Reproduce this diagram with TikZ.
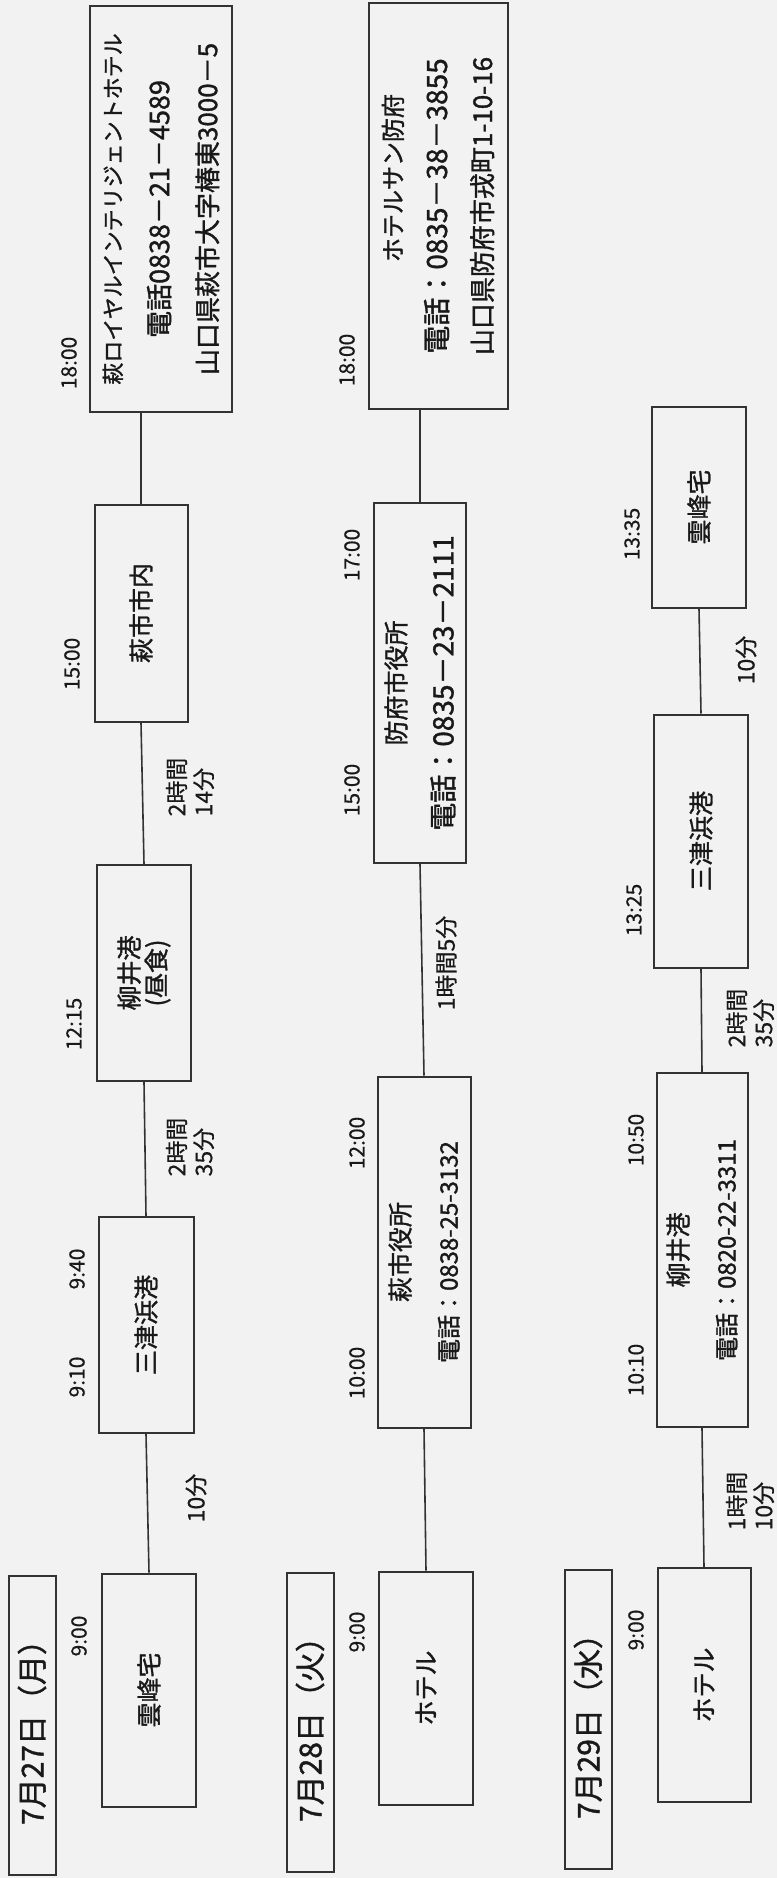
\documentclass[tikz,border=0pt]{standalone}
\usepackage{fontspec}
\setmainfont{Noto Sans CJK JP}[FakeBold=0.5]
\newfontfamily\heavy{Noto Sans CJK JP}[FakeBold=1.3]

\begin{document}
\begin{tikzpicture}[x=1pt,y=-1pt]
 \fill[black!5] (0,0) rectangle (777,1878);
 \useasboundingbox (0,0) rectangle (777,1878);
 \tikzstyle{every node} = [rotate=90,text=black!90,inner sep=0pt]
 \tikzstyle{box} = [draw=black!80,line width=2pt,align=center,
   font=\heavy\fontsize{25}{48}\selectfont]
 \tikzstyle{day} = [box,minimum width=299,minimum height=47,
   font=\heavy\fontsize{30}{36}\selectfont]
 \tikzstyle{time} = [font=\fontsize{21}{24}\selectfont]
 \tikzstyle{trip} = [align=left,font=\fontsize{23}{27}\selectfont]
 \tikzstyle{link} = [draw=black!80,line width=1.6pt]

 \node[day] (d1) at (32,1725) {7月27日（月）};
 \node[box,minimum width=233,minimum height=94] (a1) at (149,1690) {雲峰宅};
 \node[box,minimum width=216,minimum height=95] (a2) at (146,1325) {三津浜港};
 \node[box,minimum width=216,minimum height=94,font=\heavy\fontsize{25}{27}\selectfont]
   (a3) at (144,973) {柳井港\\(昼食)};
 \node[box,minimum width=217,minimum height=93] (a4) at (141,613) {萩市市内};
 \node[box,minimum width=406,minimum height=142] (a5) at (161,209)
   {{\fontsize{22}{48}\selectfont 萩ロイヤルインテリジェントホテル}\\
    {\fontsize{27}{48}\selectfont 電話0838－21－4589}\\
    {\fontsize{26}{48}\selectfont 山口県萩市大字椿東3000－5}};
 \node[time] (t1) at (79,1636) {9:00};
 \node[time] (t2) at (77,1377) {9:10};
 \node[time] (t3) at (77,1269) {9:40};
 \node[time] (t4) at (74,1024) {12:15};
 \node[time] (t5) at (72,664) {15:00};
 \node[time] (t6) at (69,363) {18:00};
 \node[trip] (m1) at (196,1498) {10分};
 \node[trip] (m2) at (190,1147) {2時間\\35分};
 \node[trip] (m3) at (190,787) {2時間\\14分};
 \draw[link] (a1.east) -- (a2.west);
 \draw[link] (a2.east) -- (a3.west);
 \draw[link] (a3.east) -- (a4.west);
 \draw[link] (a4.east) -- (a4.east |- a5.west);

 \node[day] (d2) at (310,1722) {7月28日（火）};
 \node[box,minimum width=233,minimum height=94] (b1) at (426,1688) {ホテル};
 \node[box,minimum width=351,minimum height=93] (b2) at (424,1252)
   {萩市役所\\{\fontsize{24}{48}\selectfont 電話：0838-25-3132}};
 \node[box,minimum width=360,minimum height=92] (b3) at (420,683)
   {防府市役所\\{\fontsize{28}{48}\selectfont 電話：0835－23－2111}};
 \node[box,minimum width=406,minimum height=139,font=\heavy\fontsize{25}{45}\selectfont]
   (b4) at (438,206)
   {{\fontsize{24}{45}\selectfont \hspace*{56pt}ホテルサン防府}\\
    {\fontsize{28}{45}\selectfont 電話：0835－38－3855}\\
    {\fontsize{26}{45}\selectfont 山口県防府市戎町1-10-16}};
 \node[time] (u1) at (357,1632) {9:00};
 \node[time] (u2) at (357,1373) {10:00};
 \node[time] (u3) at (357,1143) {12:00};
 \node[time] (u4) at (352,790) {15:00};
 \node[time] (u5) at (352,555) {17:00};
 \node[time] (u6) at (347,360) {18:00};
 \node[trip] (n1) at (446,963) {1時間5分};
 \draw[link] (b1.east) -- (b2.west);
 \draw[link] (b2.east) -- (b3.west);
 \draw[link] (b3.east) -- (b3.east |- b4.west);

 \node[day] (d3) at (588,1719) {7月29日（水）};
 \node[box,minimum width=234,minimum height=93] (c1) at (704,1685) {ホテル};
 \node[box,minimum width=354,minimum height=91] (c2) at (702,1250)
   {柳井港\\{\fontsize{24}{48}\selectfont 電話：0820-22-3311}};
 \node[box,minimum width=253,minimum height=94] (c3) at (701,841) {三津浜港};
 \node[box,minimum width=201,minimum height=94] (c4) at (699,507) {雲峰宅};
 \node[time] (v1) at (636,1630) {9:00};
 \node[time] (v2) at (636,1370) {10:10};
 \node[time] (v3) at (636,1140) {10:50};
 \node[time] (v4) at (634,910) {13:25};
 \node[time] (v5) at (632,534) {13:35};
 \node[trip] (p1) at (750,1501) {1時間\\10分};
 \node[trip] (p2) at (750,1018) {2時間\\35分};
 \node[trip] (p3) at (746,660) {10分};
 \draw[link] (c1.east) -- (c2.west);
 \draw[link] (c2.east) -- (c3.west);
 \draw[link] (c3.east) -- (c4.west);
\end{tikzpicture}
\end{document}
